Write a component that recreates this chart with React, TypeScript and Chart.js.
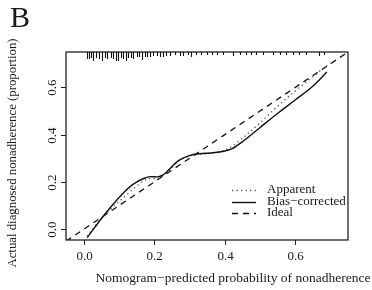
import React, { useEffect, useRef } from "react";
import { Chart, registerables } from "chart.js";
Chart.register(...registerables);

// ---- data ----
const xTicks = [0.0, 0.2, 0.4, 0.6];
const yTicks = [0.0, 0.2, 0.4, 0.6];
const xTickLabels = ["0.0", "0.2", "0.4", "0.6"];
const yTickLabels = ["0.0", "0.2", "0.4", "0.6"];

const biasX = [0.01, 0.03, 0.05, 0.08, 0.11, 0.14, 0.17, 0.19, 0.21, 0.23, 0.25, 0.27, 0.30, 0.33, 0.36, 0.39, 0.42, 0.45, 0.50, 0.55, 0.60, 0.65, 0.69];
const biasCorrected = [-0.035, 0.005, 0.045, 0.10, 0.15, 0.19, 0.215, 0.223, 0.222, 0.235, 0.265, 0.292, 0.312, 0.32, 0.323, 0.328, 0.34, 0.37, 0.43, 0.49, 0.547, 0.605, 0.665];

const apparentX = [0.01, 0.03, 0.05, 0.08, 0.11, 0.14, 0.17, 0.19, 0.21, 0.23, 0.25, 0.27, 0.30, 0.33, 0.36, 0.39, 0.42, 0.45, 0.50, 0.55, 0.60, 0.65, 0.70];
const apparent = [-0.03, 0.01, 0.045, 0.09, 0.13, 0.17, 0.205, 0.215, 0.215, 0.235, 0.26, 0.29, 0.31, 0.318, 0.322, 0.33, 0.35, 0.385, 0.45, 0.52, 0.585, 0.645, 0.705];

const idealX = [-0.05, 0.75];
const ideal = [-0.05, 0.75];

const rugX = [0.009, 0.016, 0.021, 0.028, 0.035, 0.045, 0.051, 0.061, 0.067, 0.077, 0.084, 0.092, 0.098, 0.105, 0.113, 0.119, 0.127, 0.134, 0.141, 0.150, 0.157, 0.165, 0.174, 0.181, 0.188, 0.197, 0.207, 0.216, 0.226, 0.235, 0.245, 0.259, 0.273, 0.282, 0.296, 0.306, 0.320, 0.334, 0.349, 0.363, 0.377, 0.395, 0.424, 0.443, 0.462, 0.476, 0.490, 0.509, 0.537, 0.556, 0.575, 0.594, 0.612, 0.631, 0.669, 0.683];
const rugLen = [7, 7, 6, 9, 6, 7, 9, 6, 7, 6, 7, 9, 9, 6, 7, 9, 6, 6, 7, 5, 5, 8, 5, 5, 5, 4, 4, 5, 5, 4, 4, 3, 4, 4, 3, 5, 3, 3, 3, 3, 3, 3, 4, 3, 3, 3, 3, 3, 3, 3, 3, 3, 3, 3, 4, 3];

const seriesLabels = ["Apparent", "Bias\u2212corrected", "Ideal"];
const xTitle = "Nomogram\u2212predicted probability of nonadherence";
const yTitle = "Actual diagnosed nonadherence (proportion)";
const panelLabel = "B";

const FONT = "'Liberation Serif', 'Times New Roman', serif";
const INK = "#1a1a1a";

const toPts = (xs: number[], ys: number[]) => xs.map((x, i) => ({ x, y: ys[i] }));

const decorPlugin = {
  id: "decor",
  afterDraw(chart: any) {
    const { ctx, chartArea, scales } = chart;
    const xs = scales.x;
    const ys = scales.y;
    const { left, right, top, bottom } = chartArea;
    ctx.save();
    // box
    ctx.strokeStyle = "#222";
    ctx.lineWidth = 1.3;
    ctx.setLineDash([]);
    ctx.strokeRect(left, top, right - left, bottom - top);

    // x ticks
    ctx.lineWidth = 1;
    ctx.fillStyle = INK;
    ctx.font = `13px ${FONT}`;
    ctx.textAlign = "center";
    ctx.textBaseline = "middle";
    xTicks.forEach((v, i) => {
      const px = Math.round(xs.getPixelForValue(v)) + 0.5;
      ctx.beginPath();
      ctx.moveTo(px, bottom);
      ctx.lineTo(px, bottom + 5);
      ctx.stroke();
      ctx.fillText(xTickLabels[i], px, bottom + 17);
    });
    // y ticks
    yTicks.forEach((v, i) => {
      const py = Math.round(ys.getPixelForValue(v)) + 0.5;
      ctx.beginPath();
      ctx.moveTo(left, py);
      ctx.lineTo(left - 5, py);
      ctx.stroke();
      ctx.save();
      ctx.translate(left - 13, py);
      ctx.rotate(-Math.PI / 2);
      ctx.fillText(yTickLabels[i], 0, 0);
      ctx.restore();
    });

    // rug
    ctx.strokeStyle = "#111";
    ctx.lineWidth = 1.1;
    rugX.forEach((v, i) => {
      const px = Math.round(xs.getPixelForValue(v)) + 0.5;
      ctx.beginPath();
      ctx.moveTo(px, top);
      ctx.lineTo(px, top + rugLen[i]);
      ctx.stroke();
    });

    // titles
    ctx.fillStyle = INK;
    ctx.font = `13.5px ${FONT}`;
    ctx.textAlign = "center";
    ctx.fillText(xTitle, 233, 278);
    ctx.font = `12.8px ${FONT}`;
    ctx.save();
    ctx.translate(13, 153);
    ctx.rotate(-Math.PI / 2);
    ctx.fillText(yTitle, 0, 0);
    ctx.restore();

    // panel label
    ctx.font = `30px ${FONT}`;
    ctx.textAlign = "left";
    ctx.textBaseline = "alphabetic";
    ctx.fillText(panelLabel, 10, 27);

    // legend
    const ds = chart.data.datasets;
    const rows = [190, 202, 213];
    ctx.font = `13px ${FONT}`;
    ctx.textBaseline = "middle";
    rows.forEach((ry, i) => {
      const d = ds[i];
      ctx.strokeStyle = d.borderColor;
      ctx.lineWidth = d.borderWidth;
      ctx.setLineDash(d.borderDash || []);
      ctx.beginPath();
      ctx.moveTo(232, ry + 0.5);
      ctx.lineTo(256, ry + 0.5);
      ctx.stroke();
      ctx.setLineDash([]);
      ctx.fillStyle = INK;
      ctx.fillText(d.label, 267, ry);
    });
    ctx.restore();
  },
};

export default function App() {
  const ref = useRef<HTMLCanvasElement | null>(null);
  useEffect(() => {
    if (!ref.current) return;
    const chart = new Chart(ref.current, {
      type: "scatter",
      data: {
        datasets: [
          {
            label: seriesLabels[0],
            data: toPts(apparentX, apparent),
            showLine: true,
            borderColor: "#555",
            borderWidth: 1.3,
            borderDash: [1.3, 3.2],
            pointRadius: 0,
            cubicInterpolationMode: "monotone",
            order: 2,
          },
          {
            label: seriesLabels[1],
            data: toPts(biasX, biasCorrected),
            showLine: true,
            borderColor: "#111",
            borderWidth: 1.4,
            borderDash: [],
            pointRadius: 0,
            cubicInterpolationMode: "monotone",
            order: 1,
          },
          {
            label: seriesLabels[2],
            data: toPts(idealX, ideal),
            showLine: true,
            borderColor: "#111",
            borderWidth: 1.3,
            borderDash: [6, 5],
            pointRadius: 0,
            order: 3,
          },
        ],
      },
      options: {
        animation: false,
        responsive: false,
        devicePixelRatio: 1,
        layout: { padding: { left: 66, right: 24, top: 52, bottom: 50 } },
        plugins: { legend: { display: false }, tooltip: { enabled: false } },
        scales: {
          x: { type: "linear", min: -0.05, max: 0.75, display: false },
          y: { type: "linear", min: -0.045, max: 0.75, display: false },
        },
      },
      plugins: [decorPlugin],
    });
    return () => chart.destroy();
  }, []);
  return (
    <div style={{ position: "absolute", left: 0, top: 0, width: 372, height: 290, background: "#fff" }}>
      <canvas ref={ref} width={372} height={290} style={{ display: "block" }} />
    </div>
  );
}
